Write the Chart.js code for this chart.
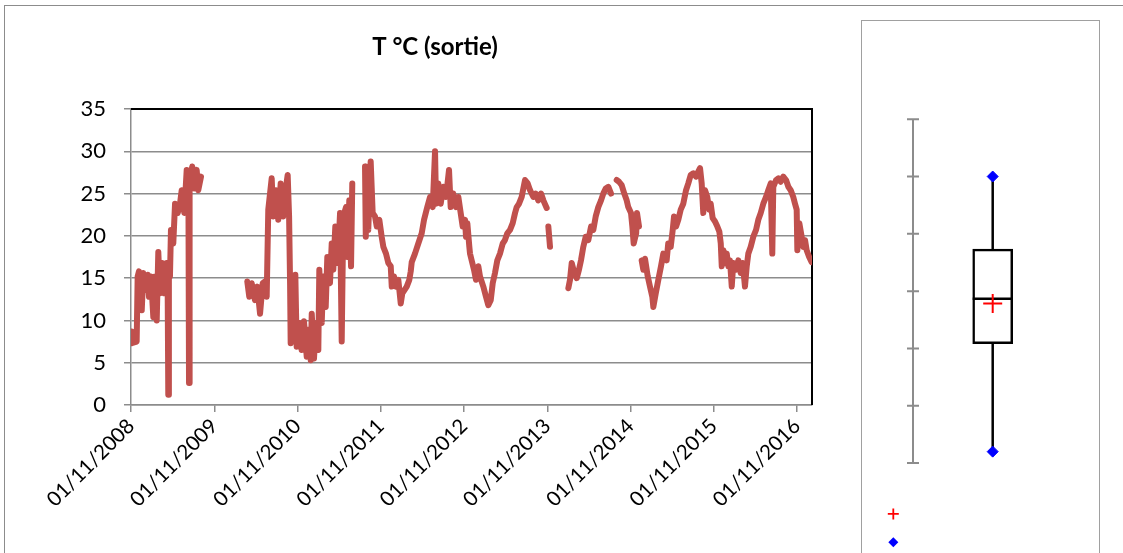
<!DOCTYPE html>
<html><head><meta charset="utf-8">
<script src="https://cdn.jsdelivr.net/npm/chart.js@4/dist/chart.umd.min.js"></script>
<style>
html,body{margin:0;padding:0;background:#fff;width:1123px;height:553px;overflow:hidden;}
#frame{position:absolute;left:4px;top:5px;width:1200px;height:600px;border-left:1.5px solid #8c8c8c;border-top:1.5px solid #8c8c8c;}
#panel{position:absolute;left:861px;top:20px;width:237px;height:600px;border:1.5px solid #a0a0a0;}
#main{position:absolute;left:0;top:0;}
#box{position:absolute;left:862px;top:20px;}
</style></head><body>
<div id="frame"></div><div id="panel"></div>
<canvas id="main" width="866" height="553"></canvas>
<canvas id="box" width="238" height="533"></canvas>
<script>
// ---- data (time in years since 01/11/2008, temperature in °C; null = gap) ----
const yearsSinceStart = [
 0.000,0.008,0.068,0.080,0.096,0.129,0.148,0.177,0.201,0.216,0.240,0.268,0.288,0.309,0.328,0.348,0.376,0.400,0.429,0.440,0.448,0.455,0.468,0.480,0.508,0.529,0.561,0.589,0.609,0.640,0.669,0.681,0.690,0.697,0.704,0.736,0.760,0.789,0.808,0.841,
 1.100,
 1.397,1.421,1.450,1.489,1.517,1.550,1.582,1.610,1.630,1.649,1.690,1.709,1.742,1.769,1.798,1.829,1.862,1.882,1.899,1.911,1.918,1.950,1.974,1.990,2.022,2.050,2.078,2.111,2.130,2.159,2.171,2.198,2.222,2.250,2.262,2.291,2.310,2.339,2.358,2.390,2.411,2.430,2.454,2.483,2.511,2.531,2.550,2.583,2.598,2.622,2.643,2.658,
 2.730,
 2.811,2.820,2.832,2.850,2.879,2.903,2.931,2.952,2.983,3.011,3.031,3.063,3.091,3.120,3.132,3.159,3.183,3.211,3.240,3.259,3.312,3.343,3.360,3.372,3.411,3.451,3.492,3.520,3.559,3.592,3.624,3.652,3.664,3.691,3.720,3.751,3.784,3.820,3.840,3.871,3.904,3.932,3.960,3.984,4.012,4.024,4.040,4.064,4.072,4.120,4.144,4.172,4.192,4.232,4.264,4.292,4.321,4.345,4.372,4.400,4.432,4.465,4.492,4.520,4.553,4.585,4.613,4.633,4.661,4.693,4.733,4.765,4.793,4.833,4.862,4.892,4.925,4.953,4.993,
 5.003,
 5.013,5.033,
 5.150,
 5.253,5.273,5.294,5.325,5.354,5.381,5.405,5.433,5.462,5.493,5.526,5.553,5.582,5.613,5.646,5.673,5.702,5.734,5.766,
 5.800,
 5.834,5.862,5.894,5.925,5.954,5.973,6.006,6.022,6.038,6.068,6.078,6.102,
 6.118,
 6.134,6.154,6.174,6.207,6.234,6.262,6.274,6.303,6.334,6.366,6.394,6.434,6.453,6.483,6.507,6.523,6.547,6.574,6.603,6.634,6.667,6.694,6.723,6.754,6.787,6.814,6.835,6.855,6.874,6.895,6.922,6.946,6.963,6.987,7.015,7.043,7.067,7.084,7.096,7.115,7.135,7.156,7.175,7.195,7.216,7.235,7.267,7.295,7.324,7.348,7.375,7.396,7.415,7.444,7.475,7.508,7.535,7.564,7.595,7.628,7.655,7.684,7.703,7.715,7.748,7.775,7.804,7.835,7.868,7.896,7.924,7.955,7.976,7.996,8.004,8.028,8.056,8.075,8.096,8.116,8.146,8.176
];
const temperature = [
 8.7,7.3,7.5,15.2,15.8,11.2,15.6,13.6,15.4,12.8,15.2,10.4,15.2,10.0,18.1,13.2,16.8,13.2,16.8,14.5,1.2,15.0,15.2,20.7,19.1,23.8,22.7,23.8,25.4,22.7,27.8,25.4,25.0,2.6,26.5,28.2,25.6,27.8,25.4,27.0,
 null,
 14.6,12.8,14.4,12.4,14.0,10.8,14.4,14.6,12.8,23.1,26.8,22.3,25.4,21.9,26.2,22.3,25.8,27.2,22.3,14.2,7.3,8.9,15.4,6.9,9.7,6.5,9.9,5.7,8.9,5.3,10.8,5.5,9.7,6.5,16.0,9.7,15.2,11.6,17.5,14.4,19.1,16.0,21.1,16.8,22.7,7.5,22.3,23.4,17.5,24.2,16.4,26.2,
 null,
 28.2,19.9,27.8,20.7,28.8,22.7,22.3,21.1,21.9,19.9,18.7,17.9,16.8,16.4,14.0,15.2,14.0,14.8,12.0,13.2,14.0,14.8,15.8,16.9,17.9,19.1,20.3,21.9,23.4,24.6,23.4,30.0,23.8,26.2,23.8,25.8,24.6,27.8,23.4,25.0,23.4,24.6,22.7,21.1,21.9,19.9,21.5,18.7,17.9,16.0,14.8,16.4,15.2,14.0,12.8,11.8,12.4,14.4,15.6,17.1,17.9,19.1,19.5,20.3,20.7,21.5,22.7,23.4,23.8,24.6,26.6,26.2,25.4,24.6,25.0,24.2,25.0,24.2,23.3,
 null,
 21.1,18.7,
 null,
 13.8,14.8,16.8,15.6,15.0,16.0,17.1,18.7,19.9,19.5,21.1,20.7,22.3,23.4,24.2,25.0,25.6,25.8,25.0,
 null,
 26.6,26.4,26.0,25.0,24.2,23.4,22.7,21.1,19.1,20.3,22.7,21.1,
 null,
 17.1,16.0,17.3,15.2,14.0,12.8,11.6,13.2,14.8,16.4,17.9,17.1,19.1,18.7,20.7,22.3,21.1,21.9,23.1,23.8,25.4,26.2,27.2,27.4,27.0,27.6,28.0,26.2,22.7,25.4,24.6,23.1,23.8,22.1,21.7,21.1,20.5,19.1,16.4,18.3,16.8,17.9,16.4,17.1,14.0,16.8,16.0,17.1,15.6,16.8,14.0,16.4,17.9,18.7,19.9,20.7,21.9,22.7,23.8,24.6,25.4,26.2,17.9,25.8,26.6,26.8,26.4,27.0,26.6,25.8,25.4,24.6,23.8,23.1,18.3,21.5,19.9,18.7,19.5,18.3,17.5,16.9
];
const tickYears = [0,1,2,3,4,5,6,7,8];
const tickLabels = ['01/11/2008','01/11/2009','01/11/2010','01/11/2011','01/11/2012','01/11/2013','01/11/2014','01/11/2015','01/11/2016'];
const axisEndYears = 8.18;
const yMin = 0, yMax = 35, yStep = 5;
// box plot statistics
const boxStatNames  = ['min','q1','median','mean','q3','max'];
const boxStatValues = [1.2, 12.5, 17.2, 16.7, 22.4, 30.0];
const boxAxisMin = 0, boxAxisMax = 36, boxAxisStep = 6;

const FONT = 'Lato, "Open Sans", sans-serif';
const GRID = '#8c8c8c';
const stat = n => boxStatValues[boxStatNames.indexOf(n)];

const points = yearsSinceStart.map((x,i)=>({x:x, y:temperature[i]}));

new Chart(document.getElementById('main'), {
  type:'line',
  data:{datasets:[{data:points, borderColor:'#C0504D', backgroundColor:'#C0504D', borderWidth:6,
    pointRadius:0, tension:0, spanGaps:false, borderJoinStyle:'round', borderCapStyle:'round'}]},
  options:{
    responsive:false, animation:false, devicePixelRatio:1,
    layout:{padding:{left:58,right:54,top:0,bottom:0}},
    plugins:{legend:{display:false}, tooltip:{enabled:false},
      title:{display:true, text:'T °C (sortie)', color:'#000',
        font:{family:FONT, size:24, weight:'bold', lineHeight:1.2}, padding:{top:32.6,bottom:47.6}}},
    scales:{
      x:{type:'linear', min:0, max:axisEndYears,
        afterBuildTicks:s=>{s.ticks = tickYears.map(v=>({value:v}));},
        afterFit:s=>{s.height=148;},
        ticks:{autoSkip:false, minRotation:45, maxRotation:45, color:'#000', padding:2,
          font:{family:FONT, size:20.5}, callback:(v,i)=>tickLabels[i]},
        grid:{drawOnChartArea:false, drawTicks:true, tickLength:7, color:GRID, lineWidth:1.5},
        border:{display:true, color:GRID, width:1.5}},
      y:{min:yMin, max:yMax,
        afterFit:s=>{s.width=73;},
        ticks:{stepSize:yStep, color:'#000', padding:18, font:{family:FONT, size:22}},
        grid:{color:GRID, lineWidth:1.5, tickLength:7},
        border:{display:true, color:GRID, width:1.5}}
    }
  },
  plugins:[{id:'plotFrame', beforeDatasetsDraw(c){const a=c.chartArea, ctx=c.ctx; ctx.save();
    ctx.strokeStyle='#000'; ctx.lineWidth=2; ctx.beginPath(); ctx.moveTo(a.left,a.top); ctx.lineTo(a.right,a.top);
    ctx.lineTo(a.right,a.bottom); ctx.stroke(); ctx.restore();}}]
});

// ---- box plot panel ----
const bx = 1;
new Chart(document.getElementById('box'), {
  type:'bar',
  data:{datasets:[
    {type:'bar', data:[{x:bx, y:[stat('q1'), stat('q3')]}], backgroundColor:'#fff', borderColor:'#000',
      borderWidth:2.5, borderSkipped:false, barThickness:40, order:2},
    {type:'line', data:[{x:bx,y:stat('min')},{x:bx,y:stat('q1')},{x:bx,y:null},{x:bx,y:stat('q3')},{x:bx,y:stat('max')}],
      borderColor:'#000', borderWidth:2.5, pointRadius:0, spanGaps:false, order:3},
    {type:'line', showLine:false, data:[{x:bx,y:stat('median')}], pointStyle:'line', pointRadius:20,
      pointBorderColor:'#000', pointBorderWidth:2.5, order:1},
    {type:'line', showLine:false, data:[{x:bx,y:stat('mean')}], pointStyle:'cross', pointRadius:9.5,
      pointBorderColor:'#ff0000', pointBorderWidth:2, order:0},
    {type:'line', showLine:false, data:[{x:bx,y:stat('min')},{x:bx,y:stat('max')}], pointStyle:'rectRot', pointRadius:5.5,
      pointBackgroundColor:'#0000ff', pointBorderColor:'#0000ff', pointBorderWidth:1, order:0}
  ]},
  options:{
    responsive:false, animation:false, devicePixelRatio:1,
    layout:{padding:{left:51,right:27.6,top:99.2,bottom:89.9}},
    plugins:{legend:{display:false}, tooltip:{enabled:false}},
    scales:{
      x:{type:'linear', min:0, max:2, offset:false, afterFit:s=>{s.height=0;},
        ticks:{display:false}, grid:{display:false}, border:{display:false}},
      y:{min:boxAxisMin, max:boxAxisMax, afterFit:s=>{s.width=0;},
        ticks:{display:false, stepSize:boxAxisStep}, grid:{display:false}, border:{display:false}}
    }
  },
  plugins:[{id:'valueAxis',
    beforeDatasetsDraw(c){const ys=c.scales.y, ctx=c.ctx, x=c.chartArea.left; ctx.save();
      ctx.strokeStyle=GRID; ctx.lineWidth=2; ctx.beginPath();
      ctx.moveTo(x, ys.getPixelForValue(boxAxisMin)); ctx.lineTo(x, ys.getPixelForValue(boxAxisMax));
      ys.ticks.forEach(t=>{const y=ys.getPixelForValue(t.value); ctx.moveTo(x-6,y); ctx.lineTo(x+6,y);});
      ctx.stroke(); ctx.restore();},
    afterDraw(c){const ctx=c.ctx; ctx.save();
      // legend symbols (mean, min/max)
      const lx=31.3, l1=493.9, l2=522.2;
      ctx.strokeStyle='#ff0000'; ctx.lineWidth=1.8; ctx.beginPath();
      ctx.moveTo(lx-5.5,l1); ctx.lineTo(lx+5.5,l1); ctx.moveTo(lx,l1-5.5); ctx.lineTo(lx,l1+5.5); ctx.stroke();
      ctx.fillStyle='#0000ff'; ctx.beginPath();
      ctx.moveTo(lx,l2-5); ctx.lineTo(lx+5,l2); ctx.lineTo(lx,l2+5); ctx.lineTo(lx-5,l2); ctx.closePath(); ctx.fill();
      ctx.restore();}
  }]
});
</script>
</body></html>
